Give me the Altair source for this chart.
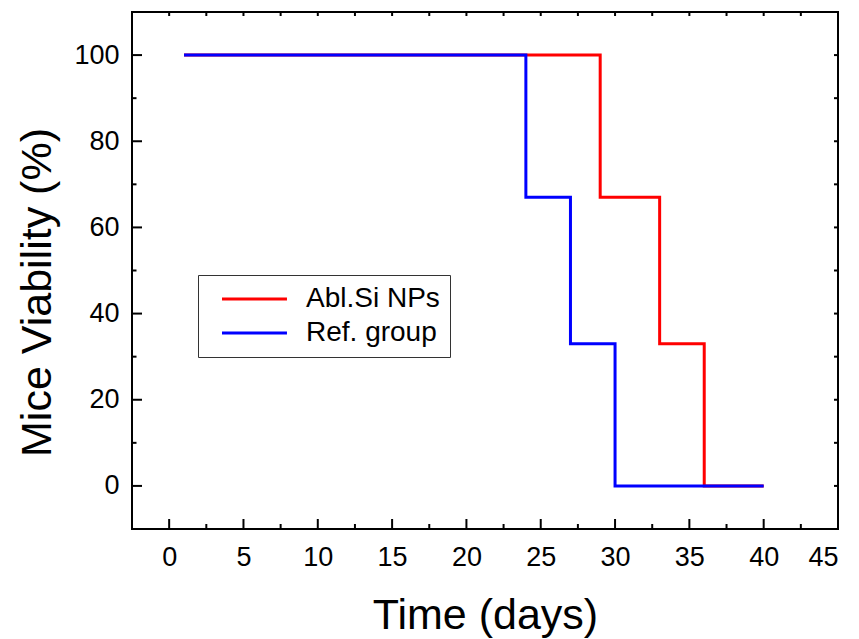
import altair as alt
import pandas as pd

# Data (step curves, step-after)
abl_days = [1, 29, 33, 36, 40]
abl_viab = [100, 67, 33, 0, 0]
ref_days = [1, 24, 27, 30, 40]
ref_viab = [100, 67, 33, 0, 0]
series_names = ["Abl.Si NPs", "Ref. group"]
series_colors = ["#ff0000", "#0000ff"]

x_major = [0, 5, 10, 15, 20, 25, 30, 35, 40, 45]
x_minor = [2.5, 7.5, 12.5, 17.5, 22.5, 27.5, 32.5, 37.5, 42.5]
y_major = [0, 20, 40, 60, 80, 100]
y_minor = [10, 30, 50, 70, 90]

W, H = 706, 517
FONT = "Liberation Sans"

df = pd.DataFrame(
    {"day": abl_days + ref_days,
     "viab": abl_viab + ref_viab,
     "group": [series_names[0]] * len(abl_days) + [series_names[1]] * len(ref_days)}
)

xscale = alt.Scale(domain=[-2.5, 45], nice=False, zero=False)
yscale = alt.Scale(domain=[-10, 110], nice=False, zero=False)
cscale = alt.Scale(domain=series_names, range=series_colors)

xaxis = alt.Axis(values=x_major, ticks=False, tickSize=0, domain=False, grid=False,
                 labelFontSize=27, labelPadding=15, labelColor="black",
                 title="Time (days)", titleFontSize=43, titleFontWeight="normal",
                 titleColor="black", titleX=353, titleY=99, titleBaseline="alphabetic",
                 titleAlign="center")
yaxis = alt.Axis(values=y_major, ticks=False, tickSize=0, domain=False, grid=False,
                 labelFontSize=27, labelPadding=13, labelColor="black",
                 title="Mice Viability (%)", titleFontSize=43, titleFontWeight="normal",
                 titleColor="black", titleX=-82, titleY=280, titleAngle=-90,
                 titleBaseline="alphabetic", titleAlign="center")

legend = alt.Legend(title=None, orient="none", legendX=66, legendY=263,
                    symbolType="M0,0H6", symbolSize=469, symbolStrokeWidth=3,
                    labelFontSize=28, labelOffset=70, labelColor="black",
                    strokeColor="#333333", fillColor="white", padding=10,
                    rowPadding=6)

def line_layer(name):
    return alt.Chart(df).transform_filter(alt.datum.group == name).mark_line(
        interpolate="step-after", strokeWidth=3
    ).encode(
        x=alt.X("day:Q", scale=xscale, axis=xaxis),
        y=alt.Y("viab:Q", scale=yscale, axis=yaxis),
        color=alt.Color("group:N", scale=cscale, legend=legend),
    )

red = line_layer(series_names[0])
blue = line_layer(series_names[1])

def xticks(vals, ypix, size):
    d = pd.DataFrame({"t": vals})
    return alt.Chart(d).mark_tick(orient="vertical", size=size, thickness=2,
                                  color="black", opacity=1, clip=True).encode(
        x=alt.X("t:Q", scale=xscale), y=alt.value(ypix))

def yticks(vals, xpix, size):
    d = pd.DataFrame({"t": vals})
    return alt.Chart(d).mark_tick(orient="horizontal", size=size, thickness=2,
                                  color="black", opacity=1, clip=True).encode(
        y=alt.Y("t:Q", scale=yscale), x=alt.value(xpix))

ticks = [
    xticks(x_major, H, 20), xticks(x_minor, H, 10),
    xticks(x_major + x_minor, 0, 8),
    yticks(y_major, 0, 20), yticks(y_minor, 0, 9),
    yticks(y_major + y_minor, W, 8),
]

chart = alt.layer(red, blue, *ticks).properties(
    width=W, height=H,
    autosize=alt.AutoSizeParams(type="none"),
    padding={"left": 132, "top": 12, "right": 21, "bottom": 110},
).configure(
    font=FONT, background="white"
).configure_view(
    stroke="black", strokeWidth=2
)

chart.save("out.html", embed_options={"renderer": "svg", "actions": False})
